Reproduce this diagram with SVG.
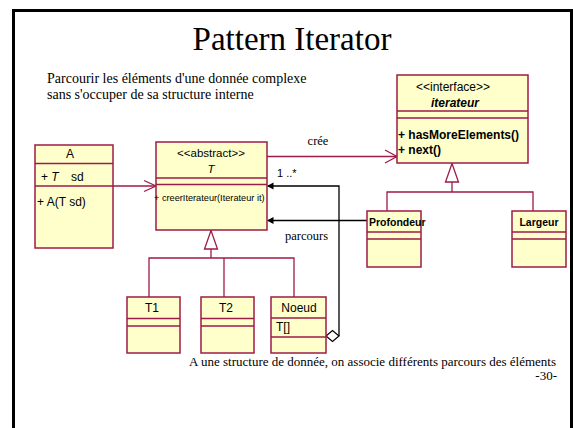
<svg xmlns="http://www.w3.org/2000/svg" width="573" height="428" viewBox="0 0 573 428">
<defs>
<style>
.box{fill:#ffffcc;stroke:#9e1b48;stroke-width:1.5}
.div{stroke:#9e1b48;stroke-width:1.5;fill:none}
.gen{stroke:#9e1b48;stroke-width:1.3;fill:none}
.blk{stroke:#000;stroke-width:1.3;fill:none}
.sans{font-family:"Liberation Sans",Arial,sans-serif;fill:#000}
.serif{font-family:"Liberation Serif","Times New Roman",serif;fill:#000}
</style>
</defs>
<rect x="0" y="0" width="573" height="428" fill="#fff"/>
<g id="frame">
<path d="M13.5 428 V10.5 H571.5 V428" fill="none" stroke="#000" stroke-width="3"/>
<path d="M571.5 10 V428" stroke="#000" stroke-width="1.2"/>
</g>
<g id="title">
<text class="serif" x="292" y="50" font-size="33" text-anchor="middle">Pattern Iterator</text>
<text class="serif" x="47" y="83" font-size="14">Parcourir les éléments d'une donnée complexe</text>
<text class="serif" x="47" y="99" font-size="14">sans s'occuper de sa structure interne</text>
<text class="serif" x="556" y="366" font-size="13" text-anchor="end">A une structure de donnée, on associe différents parcours des éléments</text>
<text class="serif" x="557" y="380" font-size="13" text-anchor="end">-30-</text>
</g>
<g id="connectors">
<line class="gen" x1="113" y1="186" x2="156" y2="186"/>
<polyline class="gen" points="144,180.5 156,186 144,191.5"/>
<line class="gen" x1="267" y1="156.5" x2="397" y2="156.5"/>
<polyline class="gen" points="385,150 397,156.5 385,163"/>
<text class="serif" x="318" y="145" font-size="12.5" text-anchor="middle">crée</text>
<polygon class="gen" points="452,163.5 445.5,182 458.5,182" fill="#fff"/>
<polyline class="gen" points="452,182 452,192"/>
<polyline class="gen" points="387,211 387,192 533,192 533,211"/>
<polygon class="gen" points="211,230.5 204.5,249 217.5,249" fill="#fff"/>
<polyline class="gen" points="211,249 211,258"/>
<polyline class="gen" points="149,297 149,258 294,258 294,297"/>
<line class="gen" x1="224" y1="258" x2="224" y2="297"/>
<polyline class="blk" points="339,336 339,186 268,186"/>
<polygon points="267,186 273.5,182.5 273.5,189.5" fill="#000"/>
<polygon points="326,336 332.5,330.5 339,336 332.5,341.5" fill="#fff" stroke="#000" stroke-width="1.2"/>
<text class="sans" x="277" y="177" font-size="11">1 ..*</text>
<line class="blk" x1="367" y1="220.5" x2="268" y2="220.5"/>
<polygon points="267,220.5 273.5,217 273.5,224" fill="#000"/>
<text class="serif" x="285" y="240" font-size="12.5">parcours</text>
</g>
<g id="iterateur">
<rect class="box" x="397" y="75" width="131" height="88"/>
<path class="div" d="M397 111 H528 M397 118 H528"/>
<text class="sans" x="453" y="91" font-size="12" text-anchor="middle">&lt;&lt;interface&gt;&gt;</text>
<text class="sans" x="455" y="106.5" font-size="12" font-weight="bold" font-style="italic" text-anchor="middle">iterateur</text>
<text class="sans" x="398" y="139" font-size="12" font-weight="bold">+ hasMoreElements()</text>
<text class="sans" x="398" y="154" font-size="12" font-weight="bold">+ next()</text>
</g>
<g id="Profondeur">
<rect class="box" x="367" y="211" width="54" height="56"/>
<path class="div" d="M367 232 H421 M367 239 H421"/>
<text class="sans" x="369" y="225.5" font-size="10.5" font-weight="bold">Profondeur</text>
</g>
<g id="Largeur">
<rect class="box" x="512" y="211" width="54" height="56"/>
<path class="div" d="M512 232 H566 M512 239 H566"/>
<text class="sans" x="539" y="225.5" font-size="10.5" font-weight="bold" text-anchor="middle">Largeur</text>
</g>
<g id="T">
<rect class="box" x="156" y="142" width="111" height="88"/>
<path class="div" d="M156 178 H267 M156 184.5 H267"/>
<text class="sans" x="211" y="157" font-size="11.5" text-anchor="middle">&lt;&lt;abstract&gt;&gt;</text>
<text class="sans" x="211" y="173" font-size="11.5" font-style="italic" text-anchor="middle">T</text>
<text class="sans" x="154" y="201" font-size="9.2">+ creerIterateur(Iterateur it)</text>
</g>
<g id="A">
<rect class="box" x="35" y="145" width="78" height="103"/>
<path class="div" d="M35 163.5 H113 M35 186 H113"/>
<text class="sans" x="70" y="158" font-size="12" text-anchor="middle">A</text>
<text class="sans" x="41" y="181" font-size="12">+ <tspan font-style="italic">T</tspan><tspan x="71">sd</tspan></text>
<text class="sans" x="37" y="206" font-size="12">+ A(T sd)</text>
</g>
<g id="T1">
<rect class="box" x="127" y="297" width="53" height="56"/>
<path class="div" d="M127 318.5 H180 M127 326 H180"/>
<text class="sans" x="152" y="312" font-size="12" text-anchor="middle">T1</text>
</g>
<g id="T2">
<rect class="box" x="201" y="297" width="53" height="56"/>
<path class="div" d="M201 318.5 H254 M201 326 H254"/>
<text class="sans" x="226" y="312" font-size="12" text-anchor="middle">T2</text>
</g>
<g id="Noeud">
<rect class="box" x="271" y="297" width="55" height="56"/>
<path class="div" d="M271 318 H326 M271 337 H326"/>
<text class="sans" x="299" y="312" font-size="12" text-anchor="middle">Noeud</text>
<text class="sans" x="276" y="331" font-size="12">T[]</text>
</g>
</svg>
